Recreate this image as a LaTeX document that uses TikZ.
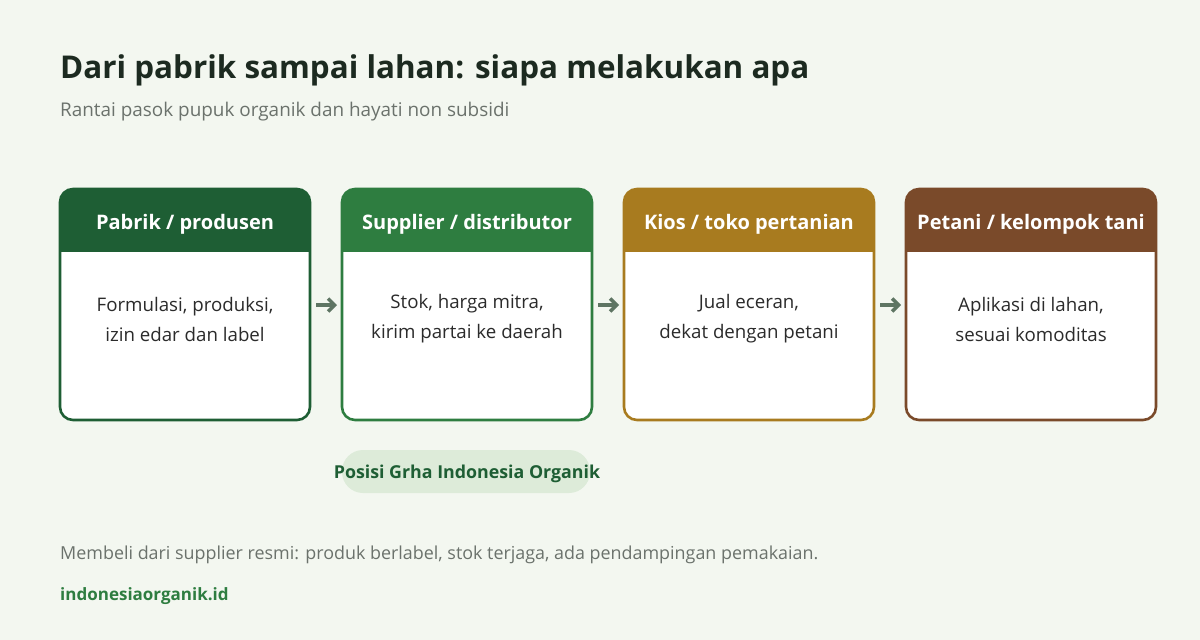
\documentclass[tikz,border=0pt]{standalone}
\usepackage{fontspec}
\setmainfont{Open Sans}
\usetikzlibrary{arrows.meta}
\definecolor{bg}{HTML}{F3F7F0}
\definecolor{titlec}{HTML}{1C2A20}
\definecolor{subc}{HTML}{6B726C}
\definecolor{cA}{HTML}{1E5E34}
\definecolor{cB}{HTML}{2E7D40}
\definecolor{cC}{HTML}{A87B1F}
\definecolor{cD}{HTML}{7A4A2A}
\definecolor{arrc}{HTML}{5E7563}
\definecolor{pillc}{HTML}{DDEBD9}
\definecolor{bodyc}{HTML}{2B2B2B}
\tikzset{
  card/.style={draw=#1, line width=2.6pt, rounded corners=13pt},
  headtxt/.style={text=white, font=\fontsize{20}{23}\selectfont\bfseries, anchor=center},
  bodytxt/.style={text=bodyc, font=\fontsize{18.7}{30}\selectfont, align=center, anchor=center},
  flow/.style={draw=arrc, line width=3.4pt, -{Straight Barb[length=6.5pt,width=13pt,line width=3.4pt]}},
}
\begin{document}
\begin{tikzpicture}[x=1pt,y=-1pt]
\fill[bg] (0,0) rectangle (1200,640);
\useasboundingbox (0,0) rectangle (1200,640);
\node[anchor=base west, inner sep=0, text=titlec, font=\fontsize{31.4}{36}\selectfont\bfseries] (title) at (60,78) {Dari pabrik sampai lahan: siapa melakukan apa};
\node[anchor=base west, inner sep=0, text=subc, font=\fontsize{18.9}{22}\selectfont] (sub) at (60,116) {Rantai pasok pupuk organik dan hayati non subsidi};
% cards
\foreach \x/\c/\n in {60/cA/a,342/cB/b,624/cC/c,906/cD/d}{
  \fill[white, rounded corners=13pt] (\x,189) rectangle ++(250,231);
  \begin{scope}
  \clip[rounded corners=13pt] (\x,189) rectangle ++(250,231);
  \fill[\c] (\x,189) rectangle ++(250,63);
  \end{scope}
  \draw[card=\c] (\x,189) rectangle ++(250,231);
  \coordinate (\n W) at (\x,305);
  \coordinate (\n E) at (\x+250,305);
}
\node[headtxt] (ha) at (185,224) {Pabrik / produsen};
\node[headtxt] (hb) at (467,224) {Supplier / distributor};
\node[headtxt] (hc) at (749,224) {Kios / toko pertanian};
\node[headtxt] (hd) at (1031,224) {Petani / kelompok tani};
\node[bodytxt] (ba) at (185,319) {Formulasi, produksi,\\izin edar dan label};
\node[bodytxt] (bb) at (467,319) {Stok, harga mitra,\\kirim partai ke daerah};
\node[bodytxt] (bc) at (749,319) {Jual eceran,\\dekat dengan petani};
\node[bodytxt] (bd) at (1031,319) {Aplikasi di lahan,\\sesuai komoditas};
\draw[flow] ([xshift=6pt]aE) -- ([xshift=-5pt]bW);
\draw[flow] ([xshift=6pt]bE) -- ([xshift=-5pt]cW);
\draw[flow] ([xshift=6pt]cE) -- ([xshift=-5pt]dW);
\fill[pillc, rounded corners=21pt] (342,450) rectangle (590,493);
\node[anchor=center, text=cA, font=\fontsize{17.8}{20}\selectfont\bfseries] (pill) at (467,474) {Posisi Grha Indonesia Organik};
\node[anchor=base west, inner sep=0, text=subc, font=\fontsize{17.9}{20}\selectfont] (foot) at (60,559) {Membeli dari supplier resmi: produk berlabel, stok terjaga, ada pendampingan pemakaian.};
\node[anchor=base west, inner sep=0, text=cB, font=\fontsize{17}{20}\selectfont\bfseries] (url) at (60,600) {indonesiaorganik.id};
\end{tikzpicture}
\end{document}
